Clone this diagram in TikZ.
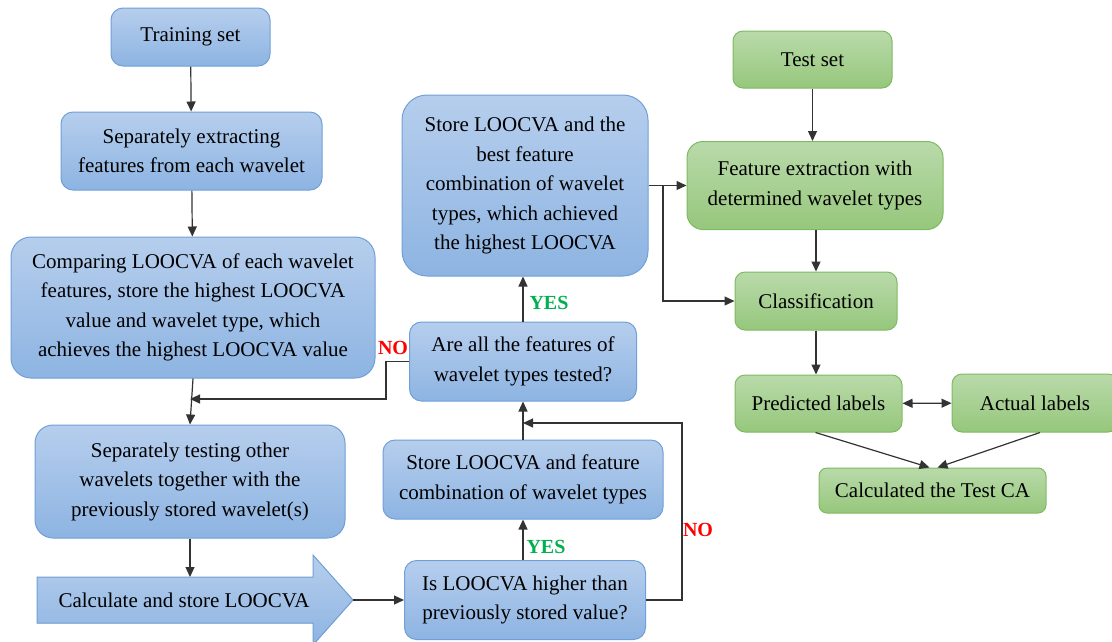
\documentclass[tikz,border=0pt]{standalone}
\usepackage{fontspec}
\setmainfont{LiberationSerif}[Extension=.ttf,UprightFont=*-Regular,BoldFont=*-Bold,
  ItalicFont=*-Italic,BoldItalicFont=*-BoldItalic]
\usetikzlibrary{positioning,arrows.meta}

\definecolor{bluetop}{RGB}{182,206,237}
\definecolor{bluebot}{RGB}{141,180,226}
\definecolor{blueedge}{RGB}{112,160,216}
\definecolor{greentop}{RGB}{185,218,170}
\definecolor{greenbot}{RGB}{150,199,124}
\definecolor{greenedge}{RGB}{126,186,96}
\definecolor{yesgreen}{RGB}{0,176,80}

\begin{document}
\begin{tikzpicture}[x=1pt,y=-1pt,
  font=\fontsize{21}{29.5}\selectfont,
  bluebox/.style={draw=blueedge,line width=1pt,top color=bluetop,bottom color=bluebot,
    rounded corners=12pt,align=center,inner sep=0pt},
  greenbox/.style={draw=greenedge,line width=1pt,top color=greentop,bottom color=greenbot,
    rounded corners=10pt,align=center,inner sep=0pt},
  arr/.style={-{Triangle[length=10pt,width=9pt]},line width=1.2pt,black!80},
  yeslabel/.style={text=yesgreen,font=\fontsize{20}{24}\selectfont\bfseries},
  nolabel/.style={text=red,font=\fontsize{20}{24}\selectfont\bfseries}]

\useasboundingbox (0,0) rectangle (1112,641);

% training side
\node[bluebox,minimum width=159pt,minimum height=58pt] (train) at (190.5,37) {Training set};
\node[bluebox,minimum width=261pt,minimum height=78pt] (extract) at (191.5,151)
  {Separately extracting\\features from each wavelet};
\node[bluebox,rounded corners=20pt,minimum width=364pt,minimum height=141pt] (compare) at (193,307.5)
  {Comparing LOOCVA of each wavelet\\features, store the highest LOOCVA\\value and wavelet type, which\\achieves the highest LOOCVA value};
\node[bluebox,rounded corners=18pt,minimum width=310pt,minimum height=113pt] (testing) at (190,481.5)
  {Separately testing other\\wavelets together with the\\previously stored wavelet(s)};

\filldraw[draw=blueedge,line width=1pt,top color=bluetop,bottom color=bluebot]
  (37,577) -- (313,577) -- (313,555) -- (353,600) -- (313,645) -- (313,623) -- (37,623) -- cycle;
\node (calc) at (184,600) {Calculate and store LOOCVA};
\coordinate (calctip) at (353,600);

% middle column
\node[bluebox,minimum width=241pt,minimum height=79pt] (isloo) at (525,600)
  {Is LOOCVA higher than\\previously stored value?};
\node[bluebox,minimum width=280pt,minimum height=79pt] (storefeat) at (523,479.5)
  {Store LOOCVA and feature\\combination of wavelet types};
\node[bluebox,minimum width=227pt,minimum height=79pt] (areall) at (523,361.5)
  {Are all the features of\\wavelet types tested?};
\node[bluebox,rounded corners=25pt,minimum width=246pt,minimum height=181pt] (storebest) at (525,185.5)
  {Store LOOCVA and the\\best feature\\combination of wavelet\\types, which achieved\\the highest LOOCVA};

% test side
\node[greenbox,minimum width=159pt,minimum height=57pt] (testset) at (812.5,59.5) {Test set};
\node[greenbox,rounded corners=16pt,minimum width=256pt,minimum height=88pt] (featext) at (815,185.5)
  {Feature extraction with\\determined wavelet types};
\node[greenbox,minimum width=162pt,minimum height=58pt] (classif) at (816,301) {Classification};
\node[greenbox,minimum width=167pt,minimum height=57pt] (pred) at (818.5,403.5) {Predicted labels};
\node[greenbox,minimum width=166pt,minimum height=58pt] (actual) at (1035,403) {Actual labels};
\node[greenbox,rounded corners=8pt,minimum width=227pt,minimum height=45pt] (calcca) at (932.5,490.5)
  {Calculated the Test CA};

% connectors
\coordinate (merge) at (190,399);
\coordinate (nobend) at (386,399);
\coordinate (join) at (523,423);
\coordinate (noright) at (682,423);
\coordinate (split) at (663,185.5);

\draw[arr] (train) -- (extract);
\draw[arr] (extract) -- (compare);
\draw[arr] (compare.south) -- (testing.north);
\draw[arr] (testing.south) -- (testing.south |- 0,577);
\draw[arr] (calctip) -- (calctip -| isloo.west);
\draw[arr] (isloo.north -| storefeat.south) -- (storefeat.south);
\draw[arr] (storefeat) -- (areall);
\draw[arr] (areall.north) -- (areall.north |- storebest.south);
\draw[arr] (areall.west) -| (nobend) -- (merge);
\draw[arr] (isloo.east) -| (noright) -- (join);
\draw[arr] (storebest.east) -- (featext.west);
\draw[arr] (split) |- (classif.west);
\draw[arr] (testset) -- (testset.south |- featext.north);
\draw[arr] (featext.south -| classif.north) -- (classif.north);
\draw[arr] (classif.south) -- (classif.south |- pred.north);
\draw[arr,{Triangle[length=10pt,width=9pt]}-{Triangle[length=10pt,width=9pt]}] (pred) -- (actual);
\draw[arr] ([xshift=-3pt]pred.south) -- ([xshift=-3pt]calcca.north);
\draw[arr] ([xshift=5pt]actual.south) -- ([xshift=5pt]calcca.north);

% branch labels
\node[yeslabel] (yes1) at (549,303) {YES};
\node[yeslabel] (yes2) at (546,547) {YES};
\node[nolabel] (no1) at (393,348) {NO};
\node[nolabel] (no2) at (698,530) {NO};

\end{tikzpicture}
\end{document}
